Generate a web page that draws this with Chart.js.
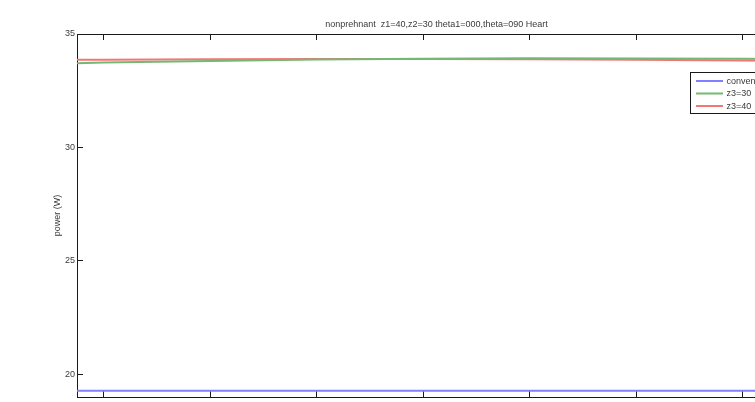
<!DOCTYPE html>
<html>
<head>
<meta charset="utf-8">
<script src="https://cdn.jsdelivr.net/npm/chart.js@4/dist/chart.umd.min.js"></script>
<style>
  html, body { margin: 0; padding: 0; background: #fff; overflow: hidden; }
  #wrap { width: 820px; height: 420px; }
</style>
</head>
<body>
<div id="wrap"><canvas id="c" width="820" height="420"></canvas></div>
<script>
// Sample positions along the x axis
const xValues = [75, 100, 200, 300, 400, 500, 600, 700, 750];
// Power (W) for each configuration
const conventional = [19.28, 19.28, 19.28, 19.28, 19.28, 19.28, 19.28, 19.28, 19.28];
const z3_30 = [33.71, 33.74, 33.81, 33.88, 33.91, 33.93, 33.92, 33.91, 33.90];
const z3_40 = [33.86, 33.87, 33.89, 33.90, 33.90, 33.89, 33.86, 33.83, 33.81];
const seriesNames = ['conventional', 'z3=30', 'z3=40'];
const seriesColors = ['#7f7fff', '#74b874', '#f27676'];
const yTickValues = [20, 25, 30, 35];
const xTickStep = 100;
const titleText = 'nonprehnant  z1=40,z2=30 theta1=000,theta=090 Heart';
const yTitle = 'power (W)';

const FONT = "'Liberation Sans', Arial, Helvetica, sans-serif";
const TEXT = '#3a3a3a';
const AXIS = '#1a1a1a';

function pts(ys) { return xValues.map((x, i) => ({ x: x, y: ys[i] })); }

// Boxed legend inside the axes, upper right
const boxLegend = {
  id: 'boxLegend',
  afterDraw(chart) {
    const { ctx, chartArea } = chart;
    const left = 690.5, top = chartArea.top + 38.5;
    const w = 91, h = 41;
    ctx.save();
    ctx.fillStyle = '#fff';
    ctx.fillRect(left, top, w, h);
    ctx.strokeStyle = AXIS;
    ctx.lineWidth = 1;
    ctx.strokeRect(left, top, w, h);
    ctx.font = '9px ' + FONT;
    ctx.textBaseline = 'middle';
    chart.data.datasets.forEach((ds, i) => {
      const y = top + 8.5 + i * 12.5;
      ctx.strokeStyle = ds.borderColor;
      ctx.lineWidth = 2;
      ctx.beginPath();
      ctx.moveTo(left + 5.5, y);
      ctx.lineTo(left + 32.5, y);
      ctx.stroke();
      ctx.fillStyle = TEXT;
      ctx.fillText(ds.label, left + 36, y + 0.5);
    });
    ctx.restore();
  }
};

const gridIn = { drawOnChartArea: false, drawTicks: true, tickLength: -6, color: AXIS, lineWidth: 1 };
const border = { display: true, color: AXIS, width: 1 };

new Chart(document.getElementById('c'), {
  type: 'line',
  data: {
    datasets: [
      { label: seriesNames[0], data: pts(conventional), borderColor: seriesColors[0] },
      { label: seriesNames[1], data: pts(z3_30), borderColor: seriesColors[1] },
      { label: seriesNames[2], data: pts(z3_40), borderColor: seriesColors[2] }
    ]
  },
  options: {
    responsive: false,
    animation: false,
    devicePixelRatio: 1,
    layout: { padding: { left: 0, right: 24, top: 0, bottom: 0 } },
    elements: {
      point: { radius: 0 },
      line: { borderWidth: 2, tension: 0, fill: false }
    },
    plugins: {
      legend: { display: false },
      tooltip: { enabled: false },
      title: {
        display: true,
        text: titleText,
        fullSize: false,
        color: TEXT,
        font: { family: FONT, size: 9, weight: 'normal' },
        padding: { top: 19, bottom: 0 }
      }
    },
    scales: {
      x: {
        type: 'linear',
        position: 'bottom',
        min: 75, max: 750,
        border: border,
        grid: gridIn,
        ticks: {
          stepSize: xTickStep, includeBounds: false,
          color: '#9a9a9a', font: { family: FONT, size: 9 }, padding: 10, maxRotation: 0
        },
        afterFit(s) { s.height = 23; }
      },
      xTop: {
        type: 'linear',
        position: 'top',
        min: 75, max: 750,
        border: border,
        grid: gridIn,
        ticks: { stepSize: xTickStep, includeBounds: false, display: false },
        afterFit(s) { s.height = 4.2; }
      },
      y: {
        type: 'linear',
        position: 'left',
        min: 19, max: 35,
        border: border,
        grid: gridIn,
        afterBuildTicks(s) { s.ticks = yTickValues.map(v => ({ value: v })); },
        ticks: {
          color: TEXT, font: { family: FONT, size: 9 }, padding: 8
        },
        title: {
          display: true,
          text: yTitle,
          color: TEXT,
          font: { family: FONT, size: 9 },
          padding: { top: 52, bottom: 0 }
        },
        afterFit(s) { s.width = 77; }
      }
    }
  },
  plugins: [boxLegend]
});
</script>
</body>
</html>
